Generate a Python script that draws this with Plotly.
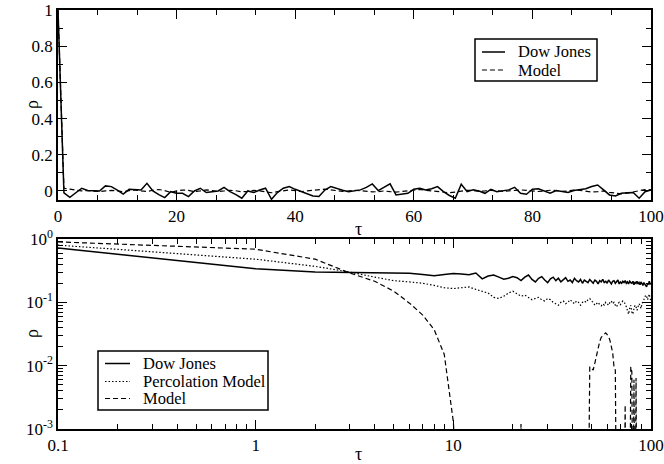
import plotly.graph_objects as go

# ---------------- top panel data (linear) ----------------
tau_top = list(range(0, 101))
dow_top = [1.0, -0.01, -0.035, -0.01, 0.015, 0.003, 0.0, 0.0, 0.028, 0.024,
           0.005, -0.017, 0.009, 0.007, 0.005, 0.042, 0.0, -0.02, -0.037, -0.004,
           -0.013, -0.013, -0.031, 0.0, 0.015, -0.009, -0.003, 0.0, 0.02, -0.004,
           -0.02, -0.04, 0.0, -0.009, 0.005, 0.015, -0.046, -0.009, 0.015, 0.024,
           0.009, -0.004, -0.015, -0.028, -0.031, 0.005, 0.024, 0.012, 0.004, -0.004,
           0.0, 0.006, 0.02, 0.039, 0.002, 0.02, 0.039, -0.022, -0.018, -0.013,
           0.009, 0.015, 0.005, 0.012, 0.024, -0.004, -0.025, -0.04, 0.037, -0.004,
           0.006, 0.0, -0.013, 0.009, -0.004, 0.002, 0.006, 0.02, -0.013, -0.018,
           0.01, 0.012, 0.0, -0.013, 0.002, -0.004, -0.009, 0.002, 0.005, 0.012,
           0.025, 0.033, 0.006, -0.022, -0.028, -0.013, -0.01, -0.009, -0.04, -0.004,
           0.005]
model_top = [1.0, 0.015, 0.01, 0.005, 0.0, 0.002, 0.0, -0.003, 0.0, 0.003,
             0.0, -0.005, 0.002, 0.005, 0.0, -0.003, 0.004, 0.008, 0.002, -0.008,
             0.0, 0.005, 0.003, -0.004, 0.0, 0.006, 0.002, -0.003, 0.0, 0.004,
             0.001, -0.005, -0.002, 0.003, 0.0, -0.006, -0.01, -0.004, 0.002, 0.006,
             0.002, -0.003, 0.0, 0.004, 0.008, 0.01, 0.006, 0.002, -0.002, 0.0,
             0.004, 0.002, -0.002, -0.005, -0.004, 0.0, -0.004, -0.006, -0.003, 0.002,
             0.006, 0.008, 0.004, 0.0, -0.004, -0.008, -0.01, -0.006, 0.0, 0.004,
             0.002, -0.002, 0.0, 0.003, 0.001, -0.002, 0.0, 0.004, 0.006, 0.003,
             0.0, -0.003, 0.0, 0.004, 0.002, -0.002, 0.0, 0.005, 0.003, -0.002,
             -0.006, -0.004, 0.0, -0.008, -0.014, -0.016, -0.012, -0.006, 0.0, 0.008,
             0.006]

# ---------------- bottom panel data (log-log) ----------------
tau_bot = [0.1] + list(range(1, 101))
dow_bot = [0.72,
           0.34, 0.30, 0.293, 0.29, 0.29, 0.288, 0.275, 0.262, 0.275, 0.285,
           0.28, 0.272, 0.29, 0.235, 0.26, 0.27, 0.25, 0.232, 0.24, 0.255,
           0.245, 0.22, 0.25, 0.27, 0.23, 0.21, 0.24, 0.255, 0.225, 0.205,
           0.235, 0.25, 0.22, 0.24, 0.21, 0.23, 0.245, 0.215, 0.225, 0.205,
           0.24, 0.22, 0.21, 0.23, 0.2, 0.225, 0.215, 0.205, 0.23, 0.21,
           0.2, 0.225, 0.215, 0.195, 0.22, 0.21, 0.23, 0.205, 0.215, 0.2,
           0.225, 0.21, 0.195, 0.215, 0.22, 0.2, 0.21, 0.225, 0.195, 0.21,
           0.2, 0.215, 0.205, 0.22, 0.2, 0.21, 0.195, 0.215, 0.205, 0.2,
           0.215, 0.19, 0.21, 0.2, 0.215, 0.195, 0.205, 0.19, 0.21, 0.2,
           0.185, 0.205, 0.195, 0.18, 0.175, 0.2, 0.19, 0.215, 0.195, 0.2]
perc_bot = [0.80,
            0.48, 0.37, 0.30, 0.25, 0.22, 0.21, 0.2, 0.185, 0.17, 0.165,
            0.17, 0.175, 0.16, 0.15, 0.14, 0.12, 0.115, 0.125, 0.14, 0.15,
            0.135, 0.125, 0.13, 0.12, 0.11, 0.115, 0.12, 0.11, 0.105, 0.115,
            0.11, 0.1, 0.095, 0.09, 0.1, 0.105, 0.095, 0.1, 0.11, 0.1,
            0.095, 0.105, 0.1, 0.09, 0.1, 0.105, 0.1, 0.11, 0.115, 0.105,
            0.1, 0.09, 0.095, 0.1, 0.092, 0.088, 0.095, 0.09, 0.1, 0.095,
            0.09, 0.1, 0.105, 0.095, 0.1, 0.09, 0.085, 0.095, 0.1, 0.092,
            0.098, 0.105, 0.1, 0.095, 0.085, 0.075, 0.065, 0.08, 0.09, 0.07,
            0.065, 0.08, 0.09, 0.085, 0.075, 0.085, 0.095, 0.09, 0.08, 0.095,
            0.1, 0.11, 0.12, 0.13, 0.125, 0.11, 0.12, 0.135, 0.115, 0.105]
# values below the axis floor (1e-3) drop out of view; None = negative (not drawn)
N = None
model_bot = [0.90,
             0.69, 0.48, 0.29, 0.215, 0.15, 0.097, 0.063, 0.037, 0.015, 0.0013,
             1e-5, N, N, N, N, N, N, N, N, N,
             1e-5, 0.0012, 1e-5, N, N, N, N, N, N, N,
             N, N, N, N, N, N, N, N, N, N,
             N, N, N, N, N, N, N, 1e-5, 0.0096, 0.0092,
             0.0085, 0.011, 0.015, 0.02, 0.024, 0.028, 0.03, 0.032, 0.033, 0.031,
             0.029, 0.025, 0.02, 0.016, 0.0095, 0.0085, 1e-5, N, N, N,
             N, N, 1e-5, 0.0024, 1e-5, N, N, 1e-5, 0.0096, 0.008,
             1e-5, 0.006, 1e-5, 0.0064, 1e-5, N, N, N, N, N,
             N, N, N, N, N, N, N, N, N, N]

top_names = ["Dow Jones", "Model"]
bot_names = ["Dow Jones", "Percolation Model", "Model"]

FONT = "Liberation Serif"
W, H = 664, 464
X0, X1 = 58, 651          # plot area left/right (px)
T0, T1 = 10, 200          # top panel top/bottom (px)
B0, B1 = 239, 429         # bottom panel top/bottom (px)

SOLID = dict(color="black", width=1.5)
DASH = dict(color="black", width=1.2, dash="5px,3px")
DOT = dict(color="black", width=1.2, dash="1.5px,2px")

fig = go.Figure()
fig.add_trace(go.Scatter(x=tau_top, y=dow_top, mode="lines", name=top_names[0],
                         line=SOLID, xaxis="x", yaxis="y"))
fig.add_trace(go.Scatter(x=tau_top, y=model_top, mode="lines", name=top_names[1],
                         line=DASH, xaxis="x", yaxis="y"))
fig.add_trace(go.Scatter(x=tau_bot, y=dow_bot, mode="lines", name=bot_names[0],
                         line=SOLID, xaxis="x2", yaxis="y2"))
fig.add_trace(go.Scatter(x=tau_bot, y=perc_bot, mode="lines", name=bot_names[1],
                         line=DOT, xaxis="x2", yaxis="y2"))
fig.add_trace(go.Scatter(x=tau_bot, y=model_bot, mode="lines", name=bot_names[2],
                         line=DASH, xaxis="x2", yaxis="y2", connectgaps=False))

axis_common = dict(showline=True, linecolor="black", linewidth=1.5, mirror="allticks",
                   ticks="inside", ticklen=9, tickwidth=1.2, tickcolor="black",
                   showgrid=False, zeroline=False, automargin=False,
                   tickfont=dict(family=FONT, size=17, color="black"))

xdom = [X0 / W, X1 / W]
fig.update_layout(
    width=W, height=H,
    margin=dict(l=0, r=0, t=0, b=0, pad=0, autoexpand=False),
    paper_bgcolor="white", plot_bgcolor="white",
    font=dict(family=FONT, color="black", size=17),
    showlegend=False,
    xaxis=dict(domain=xdom, anchor="y", range=[0, 100], dtick=20, tick0=0,
               minor=dict(dtick=20 / 3, tick0=0, ticks="inside", ticklen=5, tickcolor="black"),
               **axis_common),
    yaxis=dict(domain=[1 - T1 / H, 1 - T0 / H], anchor="x", range=[-0.05, 1],
               tickvals=[0, 0.2, 0.4, 0.6, 0.8, 1], ticktext=["0", "0.2", "0.4", "0.6", "0.8", "1"],
               minor=dict(dtick=0.1, tick0=0, ticks="inside", ticklen=5, tickcolor="black"),
               **axis_common),
    xaxis2=dict(domain=xdom, anchor="y2", type="log", range=[-1, 2],
                tickvals=[0.1, 1, 10, 100], ticktext=["0.1", "1", "10", "100"],
                minor=dict(dtick="D1", ticks="inside", ticklen=5, tickcolor="black"),
                **axis_common),
    yaxis2=dict(domain=[1 - B1 / H, 1 - B0 / H], anchor="x2", type="log", range=[-3, 0],
                tickvals=[0.001, 0.01, 0.1, 1],
                ticktext=["10<sup>-3</sup>", "10<sup>-2</sup>", "10<sup>-1</sup>", "10<sup>0</sup>"],
                minor=dict(dtick="D1", ticks="inside", ticklen=5, tickcolor="black"),
                **axis_common),
)


def px2paper(px, py):
    return px / W, 1 - py / H


# axis titles as annotations
titles = [
    ("τ", (X0 + X1) / 2 + 4, 229, 0),
    ("ρ", 32, (T0 + T1) / 2, -90),
    ("τ", (X0 + X1) / 2 + 4, 454, 0),
    ("ρ", 32, (B0 + B1) / 2, -90),
]
for txt, px, py, ang in titles:
    x, y = px2paper(px, py)
    fig.add_annotation(text=txt, x=x, y=y, xref="paper", yref="paper",
                       showarrow=False, textangle=ang,
                       font=dict(family=FONT, size=18, color="black"),
                       xanchor="center", yanchor="middle")


def draw_legend(box, sample_x, text_x, rows):
    x0, y0 = px2paper(box[0], box[1])
    x1, y1 = px2paper(box[2], box[3])
    fig.add_shape(type="rect", xref="paper", yref="paper", x0=x0, y0=y1, x1=x1, y1=y0,
                  line=dict(color="black", width=1.5), fillcolor="white", layer="above")
    for name, style, py in rows:
        a, yy = px2paper(sample_x[0], py)
        b, _ = px2paper(sample_x[1], py)
        fig.add_shape(type="line", xref="paper", yref="paper", x0=a, x1=b, y0=yy, y1=yy,
                      line=style, layer="above")
        tx, _ = px2paper(text_x, py)
        fig.add_annotation(text=name, x=tx, y=yy, xref="paper", yref="paper",
                           showarrow=False, xanchor="left", yanchor="middle",
                           font=dict(family=FONT, size=16.5, color="black"))


draw_legend((475, 39, 597, 81), (482, 505), 516,
            [(top_names[0], SOLID, 52), (top_names[1], DASH, 70)])
draw_legend((98, 351, 268, 410), (105, 130), 141,
            [(bot_names[0], SOLID, 363.5), (bot_names[1], DOT, 381.5), (bot_names[2], DASH, 398.5)])

fig.write_html("out.html", config={"displayModeBar": False},
               post_script="document.body.style.margin='0';document.body.style.overflow='hidden';")
